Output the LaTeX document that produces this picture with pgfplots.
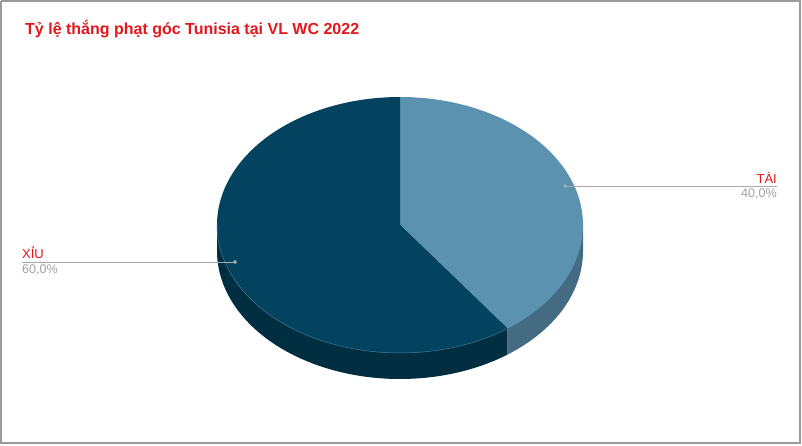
\documentclass[border=0pt]{standalone}
\usepackage{pgfplots}
\usepackage{pgfplotstable}
\pgfplotsset{compat=1.18}
\usepackage{fontspec}
\setmainfont{Liberation Sans}

\definecolor{taiTop}{HTML}{5A92AF}
\definecolor{xiuTop}{HTML}{03435F}
\definecolor{taiSide}{HTML}{456B82}
\definecolor{xiuSide}{HTML}{022E42}
\definecolor{titleRed}{HTML}{E3161B}
\definecolor{pctGray}{HTML}{A0A0A0}
\definecolor{leader}{HTML}{A8A8A8}
\definecolor{frame}{HTML}{9A9A9A}

% share of each slice, in percent
\pgfplotstableread{
label value
TAI 40
XIU 60
}\piedata
\pgfplotstablegetelem{0}{value}\of\piedata
\let\vTai\pgfplotsretval
% pie in pixel units: centre (400,225), radii 183 x 128, depth 26
\pgfmathsetmacro\aSplit{90-360*\vTai/100}
\pgfmathsetmacro\aEnd{\aSplit+360}
\pgfmathsetmacro\xSplit{400+183*cos(\aSplit)}

\begin{document}
\begin{tikzpicture}
\begin{axis}[
  width=802bp, height=446bp, scale only axis,
  xmin=0, xmax=802, ymin=0, ymax=446, y dir=reverse,
  xtick=\empty, ytick=\empty,
  axis line style={draw=none},
  clip=false,
]
% chart border
\addplot[frame, line width=1.2bp] coordinates {(1,1) (800,1) (800,443) (1,443) (1,1)};

% side walls
\addplot[fill=xiuSide, draw=none, domain=-180:\aSplit, samples=100]
  ({400+183*cos(x)},{251-128*sin(x)}) -- (axis cs:\xSplit,225) -- (axis cs:217,225) -- cycle;
\addplot[fill=taiSide, draw=none, domain=\aSplit:0, samples=60]
  ({400+183*cos(x)},{251-128*sin(x)}) -- (axis cs:583,225) -- (axis cs:\xSplit,225) -- cycle;

% top faces
\addplot[fill=taiTop, draw=none, domain=\aSplit:90, samples=120]
  ({400+183*cos(x)},{225-128*sin(x)}) -- (axis cs:400,225) -- cycle;
\addplot[fill=xiuTop, draw=none, domain=90:\aEnd, samples=150]
  ({400+183*cos(x)},{225-128*sin(x)}) -- (axis cs:400,225) -- cycle;
\addplot[draw=taiTop!70!xiuTop, line width=0.5bp, domain=180:\aEnd, samples=100]
  ({400+183*cos(x)},{225-128*sin(x)});

% leader lines
\addplot[leader, line width=1bp, mark=*, mark size=1.3bp, mark repeat=2,
  mark options={fill=leader, draw=leader}] coordinates {(565,186) (777,186)};
\addplot[leader, line width=1bp, mark=*, mark size=1.3bp, mark repeat=2,
  mark options={fill=leader, draw=leader}] coordinates {(235,262) (22,262)};

% texts
\node[anchor=base west, text=titleRed, font=\fontsize{16bp}{19bp}\selectfont\bfseries, inner sep=0pt]
  at (axis cs:25,35) {Tỷ lệ thắng phạt góc Tunisia tại VL WC 2022};
\node[anchor=base east, text=titleRed, font=\fontsize{13bp}{15bp}\selectfont, inner sep=0pt]
  at (axis cs:777,183) {TÀI};
\node[anchor=base east, text=pctGray, font=\fontsize{12.6bp}{15bp}\selectfont, inner sep=0pt]
  at (axis cs:777,197.5) {40,0\%};
\node[anchor=base west, text=titleRed, font=\fontsize{13bp}{15bp}\selectfont, inner sep=0pt]
  at (axis cs:22,258) {XỈU};
\node[anchor=base west, text=pctGray, font=\fontsize{12.6bp}{15bp}\selectfont, inner sep=0pt]
  at (axis cs:22,273) {60,0\%};
\end{axis}
\end{tikzpicture}
\end{document}
